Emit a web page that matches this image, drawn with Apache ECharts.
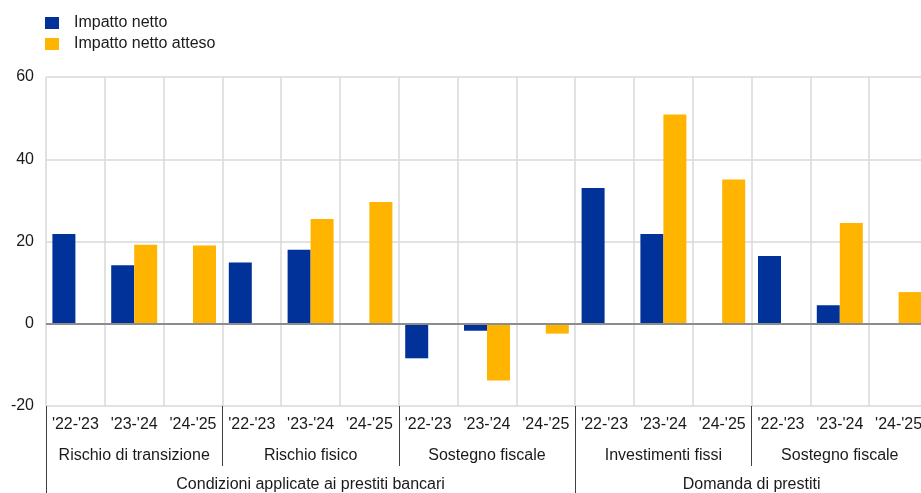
<!DOCTYPE html>
<html>
<head>
<meta charset="utf-8">
<script src="https://cdn.jsdelivr.net/npm/echarts@6/dist/echarts.min.js"></script>
<style>html,body{margin:0;padding:0;background:#fff;overflow:hidden}#c{width:928px;height:493px}</style>
</head>
<body>
<div id="c"></div>
<script>
var years = ["'22-'23","'23-'24","'24-'25","'22-'23","'23-'24","'24-'25","'22-'23","'23-'24","'24-'25","'22-'23","'23-'24","'24-'25","'22-'23","'23-'24","'24-'25"];
var subgroups = ["Rischio di transizione","Rischio fisico","Sostegno fiscale","Investimenti fissi","Sostegno fiscale"];
var groups = ["Condizioni applicate ai prestiti bancari","Domanda di prestiti"];
var groupSizes = [9, 6];
var seriesNames = ["Impatto netto","Impatto netto atteso"];
var impattoNetto = [21.8, 14.2, null, 14.9, 18.0, null, -8.4, -1.7, null, 33.0, 21.8, null, 16.5, 4.5, null];
var impattoAtteso = [null, 19.2, 19.0, null, 25.5, 29.6, null, -13.8, -2.4, null, 50.9, 35.1, null, 24.5, 7.7];
var yTicks = {min: -20, max: 60, interval: 20};

var FONT = "'Liberation Sans', Arial, sans-serif";
var TXT = '#1a1a1a';
var FS = 16;

// group axis: half-category points, boundaryGap false
var nCat = years.length;
var halfData = [];
for (var i = 0; i <= nCat * 2; i++) halfData.push('');
var groupLabelIdx = {}, groupTickIdx = {0: true};
var acc = 0;
groups.forEach(function (g, k) {
  var center = acc * 2 + groupSizes[k];
  halfData[center] = g;
  groupLabelIdx[center] = true;
  acc += groupSizes[k];
  if (k < groups.length - 1) groupTickIdx[acc * 2] = true;
});
var subTickIdx = {};
for (var s = 1; s < subgroups.length; s++) subTickIdx[s] = true;

var chart = echarts.init(document.getElementById('c'));
chart.setOption({
  animation: false,
  textStyle: {fontFamily: FONT},
  legend: {
    orient: 'vertical', left: 40, top: 10,
    itemWidth: 14, itemHeight: 12, itemGap: 5,
    icon: 'rect',
    textStyle: {fontSize: FS, color: TXT, fontFamily: FONT, padding: [0, 0, 0, 10]},
    data: seriesNames
  },
  grid: {left: 46, right: 0, top: 77, bottom: 87},
  xAxis: [
    {
      type: 'category', data: years, position: 'bottom',
      axisLine: {show: false}, axisTick: {show: false},
      axisLabel: {interval: 0, margin: 11, fontSize: FS, color: TXT, fontFamily: FONT},
      splitLine: {show: true, interval: 0, lineStyle: {color: '#d9d9d9', width: 1.5}}
    },
    {
      type: 'category', data: subgroups, position: 'bottom',
      axisLine: {show: false},
      axisTick: {show: true, length: 60, interval: function (idx) { return !!subTickIdx[idx]; }, lineStyle: {color: '#404040', width: 1}},
      axisLabel: {interval: 0, margin: 42, fontSize: FS, color: TXT, fontFamily: FONT},
      splitLine: {show: false}
    },
    {
      type: 'category', data: halfData, boundaryGap: false, position: 'bottom',
      axisLine: {show: false},
      axisTick: {show: true, length: 90, interval: function (idx) { return !!groupTickIdx[idx]; }, lineStyle: {color: '#404040', width: 1}},
      axisLabel: {interval: function (idx) { return !!groupLabelIdx[idx]; }, margin: 71, fontSize: FS, color: TXT, fontFamily: FONT},
      splitLine: {show: false}
    }
  ],
  yAxis: {
    type: 'value', min: yTicks.min, max: yTicks.max, interval: yTicks.interval,
    axisLine: {show: false}, axisTick: {show: false},
    axisLabel: {margin: 12, fontSize: FS, color: TXT, fontFamily: FONT},
    splitLine: {lineStyle: {color: '#d9d9d9', width: 1.5}}
  },
  series: [
    {
      name: seriesNames[0], type: 'bar', data: impattoNetto,
      barWidth: 23, barGap: '0%',
      itemStyle: {color: '#003299'},
      markLine: {
        silent: true, symbol: 'none', label: {show: false},
        lineStyle: {color: '#8c8c8c', width: 2, type: 'solid'},
        data: [{yAxis: 0}]
      }
    },
    {
      name: seriesNames[1], type: 'bar', data: impattoAtteso,
      barWidth: 23, barGap: '0%',
      itemStyle: {color: '#ffb400'}
    }
  ]
});
</script>
</body>
</html>
